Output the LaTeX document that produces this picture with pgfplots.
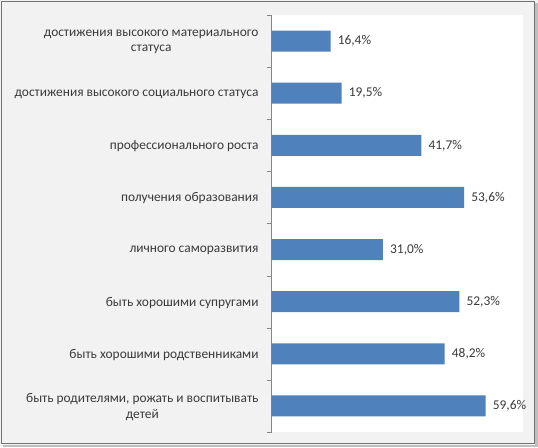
\documentclass[border=0pt]{standalone}
\usepackage{fontspec}
\setmainfont{Carlito}
\usepackage{pgfplots}
\pgfplotsset{compat=1.18}
\pgfdeclarelayer{background}
\pgfsetlayers{background,main}
\definecolor{barblue}{HTML}{4F81BD}
\definecolor{bardraw}{HTML}{4A7EBA}
\definecolor{txt}{HTML}{3A3A3A}
\definecolor{bg}{HTML}{F2F2F2}
\definecolor{axgray}{HTML}{868686}
\begin{document}
\begin{tikzpicture}
\begin{axis}[
  name=ax,
  scale only axis, width=251.3pt, height=417pt,
  xmin=0, xmax=70, ymin=0.5, ymax=8.5, y dir=reverse,
  axis x line=none, axis y line=left,
  every outer y axis line/.append style={-, draw=axgray},
  axis background/.style={fill=white},
  xbar, bar width=21pt,
  ytick={1,2,3,4,5,6,7,8},
  yticklabels={{достижения высокого материального\\статуса},
    {достижения высокого социального статуса},
    {профессионального роста},
    {получения образования},
    {личного саморазвития},
    {быть хорошими супругами},
    {быть хорошими родственниками},
    {быть родителями, рожать и воспитывать\\детей}},
  major tick length=0pt,
  minor ytick={0.5,1.5,2.5,3.5,4.5,5.5,6.5,7.5,8.5},
  minor tick length=4.5pt,
  tick align=outside,
  ytick style={draw=axgray},
  yticklabel style={font=\fontsize{13.4}{15.5}\selectfont, text=txt, align=center, anchor=east, inner sep=0pt, xshift=-13pt, yshift=-1pt},
  point meta=x,
  nodes near coords={\pgfmathprintnumber[fixed,fixed zerofill,precision=1,use comma]{\pgfplotspointmeta}\%},
  nodes near coords style={font=\fontsize{13.4}{15.5}\selectfont, text=txt, anchor=west, inner sep=0pt, xshift=7pt},
  /pgf/number format/assume math mode=true,
  clip=false,
]
\addplot[fill=barblue, draw=none] coordinates {(16.4,1) (19.5,2) (41.7,3) (53.6,4) (31.0,5) (52.3,6) (48.2,7) (59.6,8)};
\end{axis}
\begin{pgfonlayer}{background}
\begin{scope}[shift={(ax.south west)}, x=1pt, y=1pt, shift={(-271.7,-15)}]
\fill[bg] (0,0) rectangle (538,447);
\fill[black!25] (535,0) rectangle (538,444);
\fill[black!25] (3,0) rectangle (538,2.5);
\draw[draw=black!55, line width=1.3pt] (1.2,3.2) rectangle (534.2,445.8);
\end{scope}
\end{pgfonlayer}
\pgfresetboundingbox
\path[use as bounding box] (ax.south west) ++(-271.7pt,-15pt) rectangle ++(538pt,447pt);
\end{tikzpicture}
\end{document}
